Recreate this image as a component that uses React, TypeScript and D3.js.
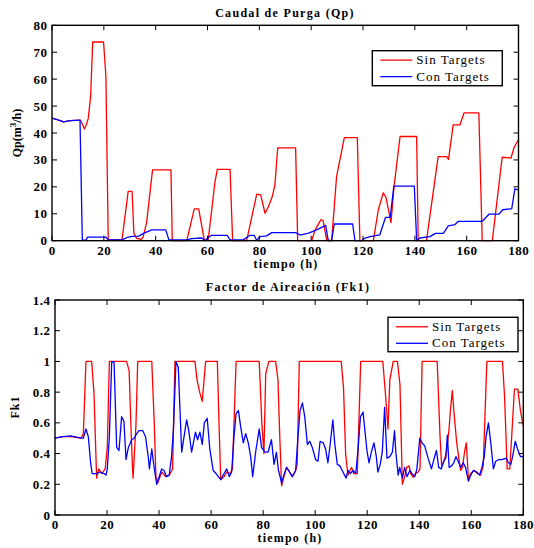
import React from "react";
import * as d3 from "d3";

// ---- data: Caudal de Purga (Qp) ----
const qpSinT = [0, 2, 4.5, 7, 11, 12.5, 13.2, 14, 14.9, 15.7, 19.9, 20.8, 21.7, 27, 29.4, 30.9, 31.6, 32.6, 34.5, 35.2, 36.5, 38.8, 45.9, 46.4, 52, 54.9, 56.6, 58.8, 60.3, 62.9, 63.8, 68.7, 69.7, 75.1, 79, 80.5, 82.2, 83.5, 85, 86, 87.1, 94, 94.8, 100.2, 101.5, 103.8, 104.6, 106, 107.9, 109.8, 112.8, 117.8, 118.8, 124, 125.9, 127.8, 128.9, 130.8, 132, 134.3, 140.7, 141.3, 144.5, 149, 152.3, 153, 154.8, 157.4, 159, 164.7, 166, 169.9, 173.7, 177.1, 178.4, 180];
const qpSinV = [45.5, 45, 44.1, 44.6, 44.8, 41.5, 43, 45.5, 53.5, 73.8, 73.8, 61, 0.3, 0.3, 18.3, 18.3, 2.7, 0.9, 0.5, 1.5, 6.7, 26.3, 26.3, 0, 0, 11.8, 11.8, 0, 0.5, 21.9, 26.5, 26.5, 0, 0, 17.3, 17, 10.2, 12.6, 16.4, 20.7, 34.5, 34.5, 0, 0, 4, 7.8, 7.5, 0.3, 0, 23.8, 38.3, 38.3, 0, 0, 11.4, 17.8, 16, 6.7, 20.3, 38.7, 38.7, 0, 0, 31.2, 31.2, 30.2, 43, 43, 47.5, 47.5, 0, 0, 31, 30.7, 34.9, 37.5];
const qpConT = [0, 2, 4.5, 7, 10.8, 11.7, 13.1, 13.7, 20.8, 21.7, 27, 29, 30.9, 33.4, 35.9, 37.2, 38.5, 43.9, 45.1, 52, 53.9, 57.8, 59, 60.5, 61.6, 67.6, 68.7, 73.8, 76.4, 78, 79, 80.2, 82.8, 84.8, 94, 95.7, 99, 102.1, 105.6, 106.6, 107.9, 108.9, 116, 116.9, 119.5, 120.8, 122.7, 126.5, 128.7, 130.5, 131.9, 139.8, 140.7, 142, 145.8, 148, 151, 152.9, 155.5, 156.8, 166, 168.7, 172.5, 173.9, 177.4, 178.6, 180];
const qpConV = [45.5, 45, 44.1, 44.6, 44.8, 0.2, 0.2, 1.3, 1.3, 0.3, 0.3, 1.2, 1.6, 1.7, 3, 3.5, 4, 4, 0.3, 0.3, 0.8, 1, 0.1, 1.3, 2, 2, 0.3, 0.3, 2, 2, 0.1, 1.5, 1.8, 3, 3, 2.1, 2.8, 4, 5.7, 0, 0, 6.2, 6.2, 0, 0, 1, 1.5, 2.2, 8.7, 8.7, 20.3, 20.3, 0, 1, 1.5, 2.7, 2.7, 5.5, 6, 7.2, 7.2, 9.9, 9.9, 11.5, 11.9, 19.3, 18.8];

// ---- data: Factor de Aireación (Fk1) ----
const fkSinT = [0, 3, 6, 10, 10.9, 11.9, 14.1, 15, 16, 16.8, 18, 19.3, 20.1, 20.9, 27.5, 28.5, 29.1, 29.8, 30, 31.1, 31.8, 37.2, 38.1, 38.8, 39.5, 41, 42.5, 44, 45.2, 46.1, 53.8, 54.6, 55.6, 56.6, 57.9, 62.4, 63, 63.7, 65, 66, 67.3, 68.2, 69.6, 78.5, 79.5, 80.3, 81, 82.2, 84.8, 85.7, 86.4, 87.1, 88, 89, 89.9, 91.2, 92.5, 93.1, 93.9, 110, 110.9, 111.7, 112.6, 113.4, 114, 114.8, 115.5, 116.2, 117.5, 126, 127.1, 128, 128.7, 130, 131.6, 132.6, 133.5, 134.4, 135.2, 136.1, 136.7, 137.7, 138.6, 139.6, 140.3, 141.1, 146.9, 148, 148.6, 149.5, 150.5, 151.4, 152, 152.7, 153.3, 154.4, 155.3, 155.9, 156.6, 157.5, 158.1, 158.5, 158.9, 159.8, 161.1, 162.4, 163.6, 164.6, 166, 172, 172.8, 173.8, 174.8, 176.6, 177.9, 178.9, 180];
const fkSinV = [0.5, 0.51, 0.51, 0.5, 0.53, 1, 1, 0.79, 0.24, 0.3, 0.27, 0.3, 0.44, 1, 1, 0.94, 0.62, 0.3, 0.24, 0.58, 1, 1, 0.62, 0.25, 0.21, 0.28, 0.25, 0.26, 0.3, 1, 1, 0.88, 0.8, 0.74, 1, 1, 0.62, 0.23, 0.25, 0.28, 0.27, 0.3, 1, 1, 0.6, 0.4, 0.92, 1, 1, 0.88, 0.51, 0.19, 0.25, 0.31, 0.29, 0.25, 0.29, 0.33, 1, 1, 0.83, 0.4, 0.26, 0.29, 0.31, 0.27, 0.27, 0.27, 1, 1, 0.77, 0.56, 0.88, 1, 1, 0.85, 0.2, 0.25, 0.31, 0.32, 0.27, 0.245, 0.27, 0.28, 0.3, 1, 1, 0.51, 0.32, 0.35, 0.41, 0.55, 0.68, 0.81, 0.68, 0.47, 0.36, 0.29, 0.31, 0.42, 0.47, 0.36, 0.23, 0.27, 0.29, 0.27, 0.26, 0.32, 1, 1, 0.77, 0.3, 0.3, 0.82, 0.82, 0.68, 0.58];
const fkConT = [0, 3, 6, 10.2, 10.9, 11.9, 12.8, 13.7, 14.3, 16, 17.3, 18.8, 19.6, 20.1, 20.9, 21.8, 22.7, 23.7, 24.6, 25.6, 26.5, 27.3, 28.2, 29.5, 30.4, 31.4, 32.4, 33.7, 34.8, 35.9, 36.3, 37.2, 38.1, 39.1, 41, 41.9, 42.9, 43.9, 44.8, 45.5, 46.5, 47.4, 48, 48.7, 49.6, 50.6, 51.5, 52.5, 53.2, 54, 54.8, 55.7, 56.6, 57.4, 58.5, 59.5, 60.8, 61.9, 63.7, 65, 66, 67, 67.9, 68.8, 69.6, 70.5, 71.4, 72.4, 73.3, 74.3, 75.2, 76, 77.2, 78.5, 79.4, 80.7, 81.9, 83.2, 84.2, 85.1, 85.9, 87.1, 88, 89, 90.1, 91.2, 92.5, 93.4, 94.2, 95.1, 96, 97, 97.9, 98.9, 100.2, 101.1, 101.9, 103.1, 104, 104.9, 105.9, 106.8, 107.5, 108.5, 109.5, 110.4, 111.9, 112.6, 113.5, 114.6, 115.6, 116.5, 117.4, 118.4, 119, 119.9, 120.7, 121.6, 122.6, 123.5, 124.1, 125, 125.8, 126.7, 127.6, 128.7, 129.7, 130.5, 131, 131.9, 132.5, 133.5, 134.4, 135.3, 136.4, 137.2, 138.3, 139.1, 140.2, 141.1, 142.1, 143.4, 144.7, 145.6, 146.6, 147.5, 148.5, 149.4, 150.2, 150.8, 151.5, 152.4, 153.3, 154.1, 155, 155.9, 156.9, 157.8, 158.9, 159.8, 160.8, 162.1, 163.2, 164.1, 165, 165.7, 166.6, 167.5, 168.5, 169.4, 170.5, 171.7, 173.4, 174.3, 175.2, 176, 176.9, 177.8, 178.9, 180];
const fkConV = [0.5, 0.51, 0.515, 0.5, 0.5, 0.56, 0.51, 0.34, 0.27, 0.27, 0.28, 0.27, 0.26, 0.3, 0.51, 1, 0.995, 0.44, 0.42, 0.64, 0.61, 0.36, 0.44, 0.49, 0.5, 0.53, 0.55, 0.55, 0.51, 0.37, 0.3, 0.43, 0.31, 0.2, 0.3, 0.29, 0.25, 0.26, 0.38, 0.55, 1, 0.96, 0.7, 0.41, 0.51, 0.62, 0.54, 0.41, 0.47, 0.54, 0.49, 0.54, 0.46, 0.6, 0.63, 0.43, 0.29, 0.27, 0.23, 0.27, 0.3, 0.25, 0.28, 0.51, 0.66, 0.68, 0.57, 0.47, 0.53, 0.47, 0.38, 0.25, 0.42, 0.56, 0.44, 0.41, 0.41, 0.49, 0.33, 0.41, 0.29, 0.21, 0.26, 0.31, 0.28, 0.25, 0.29, 0.51, 0.68, 0.73, 0.64, 0.46, 0.48, 0.44, 0.36, 0.35, 0.48, 0.47, 0.43, 0.34, 0.48, 0.62, 0.47, 0.33, 0.32, 0.29, 0.24, 0.29, 0.27, 0.29, 0.27, 0.43, 0.64, 0.67, 0.57, 0.42, 0.34, 0.41, 0.47, 0.38, 0.28, 0.33, 0.41, 0.7, 0.37, 0.38, 0.41, 0.55, 0.41, 0.26, 0.31, 0.24, 0.31, 0.25, 0.29, 0.27, 0.25, 0.3, 0.5, 0.47, 0.45, 0.37, 0.3, 0.36, 0.42, 0.31, 0.3, 0.35, 0.37, 0.52, 0.31, 0.32, 0.34, 0.38, 0.35, 0.31, 0.34, 0.31, 0.22, 0.26, 0.29, 0.28, 0.26, 0.31, 0.38, 0.51, 0.6, 0.47, 0.3, 0.35, 0.36, 0.36, 0.37, 0.34, 0.33, 0.39, 0.48, 0.43, 0.38, 0.38];

const xTicks = [0, 20, 40, 60, 80, 100, 120, 140, 160, 180];
const qpTicks = [0, 10, 20, 30, 40, 50, 60, 70, 80];
const fkTicks = [0, 0.2, 0.4, 0.6, 0.8, 1, 1.2, 1.4];
const legendNames = ["Sin Targets", "Con Targets"];
const colors = ["#ff0000", "#0000ff"];

const FONT = "'Liberation Serif', 'Times New Roman', serif";

type Series = { t: number[]; v: number[] };

function Panel({
  left, right, top, bottom, yDomain, yTicks, series, title, titleX, titleY,
  xlabY, xlabX, legend,
}: {
  left: number; right: number; top: number; bottom: number;
  yDomain: [number, number]; yTicks: number[]; series: Series[];
  title: string; titleX: number; titleY: number; xlabX: number; xlabY: number;
  legend: { x0: number; y0: number; x1: number; y1: number };
}) {
  const x = d3.scaleLinear().domain([0, 180]).range([left, right]);
  const y = d3.scaleLinear().domain(yDomain).range([bottom, top]);
  const tk = 5;
  return (
    <g>
      {series.map((s, i) => {
        const pts = s.t.map((t, j) => [t, s.v[j]] as [number, number]);
        const path = d3.line<[number, number]>().x((d) => x(d[0])).y((d) => y(d[1]))(pts) || "";
        return <path key={i} d={path} fill="none" stroke={colors[i]} strokeWidth={1.3} strokeLinejoin="round" />;
      })}
      <rect x={left} y={top} width={right - left} height={bottom - top} fill="none" stroke="#000" strokeWidth={1.4} />
      {xTicks.map((t) => (
        <g key={"x" + t}>
          <line x1={x(t)} x2={x(t)} y1={bottom} y2={bottom - tk} stroke="#000" />
          <line x1={x(t)} x2={x(t)} y1={top} y2={top + tk} stroke="#000" />
          <text x={x(t)} y={bottom + 14} textAnchor="middle" fontFamily={FONT} fontWeight="bold" fontSize={13} letterSpacing={0.5} dx={0.3}>
            {t}
          </text>
        </g>
      ))}
      {yTicks.map((t) => (
        <g key={"y" + t}>
          <line x1={left} x2={left + tk} y1={y(t)} y2={y(t)} stroke="#000" />
          <line x1={right} x2={right - tk} y1={y(t)} y2={y(t)} stroke="#000" />
          <text x={left - 5} y={y(t) + 4.5} textAnchor="end" fontFamily={FONT} fontWeight="bold" fontSize={13} letterSpacing={0.5} dx={0.5}>
            {String(t)}
          </text>
        </g>
      ))}
      <text x={titleX} y={titleY} textAnchor="middle" fontFamily={FONT} fontWeight="bold" fontSize={12} letterSpacing={1.3}>
        {title}
      </text>
      <text x={xlabX} y={xlabY} textAnchor="middle" fontFamily={FONT} fontWeight="bold" fontSize={12} letterSpacing={1.2}>
        tiempo (h)
      </text>
      <rect x={legend.x0} y={legend.y0} width={legend.x1 - legend.x0} height={legend.y1 - legend.y0} fill="#fff" stroke="#000" strokeWidth={1.4} />
      {legendNames.map((n, i) => {
        const ly = legend.y0 + 9.5 + i * 16.5;
        return (
          <g key={n}>
            <line x1={legend.x0 + 8} x2={legend.x0 + 40} y1={ly} y2={ly} stroke={colors[i]} strokeWidth={1.3} />
            <text x={legend.x0 + 44} y={ly + 4} fontFamily={FONT} fontSize={13} letterSpacing={1}>
              {n}
            </text>
          </g>
        );
      })}
    </g>
  );
}

export default function App() {
  return (
    <svg width={534} height={548} style={{ position: "absolute", left: 0, top: 0, background: "#fff" }}>
      <Panel
        left={52} right={518.5} top={25.3} bottom={240.7}
        yDomain={[0, 80]} yTicks={qpTicks}
        series={[{ t: qpSinT, v: qpSinV }, { t: qpConT, v: qpConV }]}
        title="Caudal de Purga (Qp)" titleX={285} titleY={17}
        xlabX={286} xlabY={268}
        legend={{ x0: 372.3, y0: 50.7, x1: 502.3, y1: 85.7 }}
      />
      <text transform="translate(21,133) rotate(-90)" textAnchor="middle" fontFamily={FONT} fontWeight="bold" fontSize={12}>
        Qp(m<tspan dy={-5} fontSize={9}>3</tspan><tspan dy={5}>/h)</tspan>
      </text>
      <Panel
        left={55} right={523.3} top={300} bottom={515}
        yDomain={[0, 1.4]} yTicks={fkTicks}
        series={[{ t: fkSinT, v: fkSinV }, { t: fkConT, v: fkConV }]}
        title="Factor de Aireación (Fk1)" titleX={288} titleY={291}
        xlabX={290} xlabY={542}
        legend={{ x0: 388, y0: 317.3, x1: 518, y1: 351.7 }}
      />
      <text transform="translate(19,407) rotate(-90)" textAnchor="middle" fontFamily={FONT} fontWeight="bold" fontSize={12} letterSpacing={1}>
        Fk1
      </text>
    </svg>
  );
}
